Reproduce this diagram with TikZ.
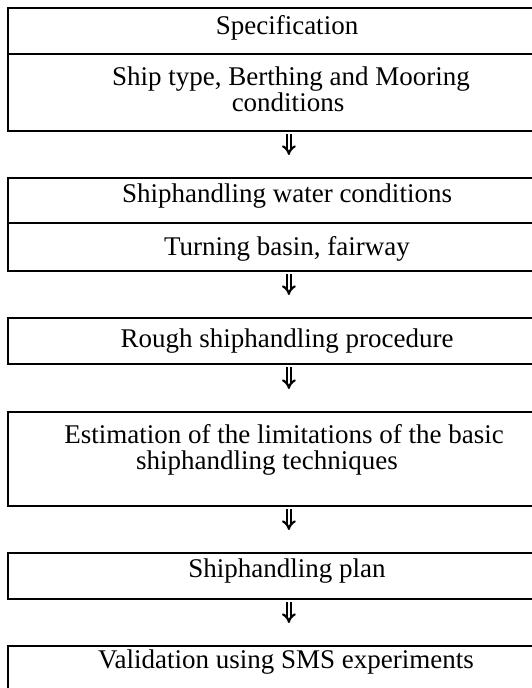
\documentclass[tikz,border=0pt]{standalone}
\usepackage{fontspec}
\setmainfont{Liberation Serif}
\usepackage{tikz}
\usetikzlibrary{arrows.meta,calc,positioning}
\tikzset{%
	process/.style = {draw, rectangle, line width=1.8pt, minimum width=562pt, inner sep=0pt, anchor=north west},
	txt/.style     = {anchor=base, inner sep=0pt, font=\fontsize{27}{31}\selectfont},
	arrow/.style   = {double, double distance=2.2pt, line width=2.2pt, -{Implies}, shorten <=2pt, shorten >=22pt},
}
\begin{document}
\begin{tikzpicture}[x=1pt,y=-1pt]
	\useasboundingbox (0,0) rectangle (532,688);
	% boxes
	\node[process, minimum height=123pt] (spec) at (7,7) {};
	\node[process, minimum height=93pt] (water) at (7,177) {};
	\node[process, minimum height=46pt] (rough) at (7,317) {};
	\node[process, minimum height=94pt] (limit) at (7,411) {};
	\node[process, minimum height=46pt] (plan) at (7,552) {};
	\node[process, minimum height=95pt] (valid) at (7,645) {};
	\draw[line width=1.8pt] (7,54) -- (569,54);
	\draw[line width=1.8pt] (7,223) -- (569,223);
	% texts
	\node[txt] (specT) at (287,34) {Specification};
	\node[txt] (specA) at (291,85) {Ship type, Berthing and Mooring};
	\node[txt] (specB) at (288,111) {conditions};
	\node[txt] (waterA) at (287,202) {Shiphandling water conditions};
	\node[txt] (waterB) at (287,255) {Turning basin, fairway};
	\node[txt] (roughT) at (287,347) {Rough shiphandling procedure};
	\node[txt] (limitA) at (284,443) {Estimation of the limitations of the basic};
	\node[txt] (limitB) at (267,469) {shiphandling techniques};
	\node[txt] (planT) at (287,577) {Shiphandling plan};
	\node[txt] (validT) at (286,668) {Validation using SMS experiments};
	% arrows
	\draw[arrow] (spec.south) -- (water.north);
	\draw[arrow] (water.south) -- (rough.north);
	\draw[arrow] (rough.south) -- (limit.north);
	\draw[arrow] (limit.south) -- (plan.north);
	\draw[arrow] (plan.south) -- (valid.north);
\end{tikzpicture}
\end{document}
